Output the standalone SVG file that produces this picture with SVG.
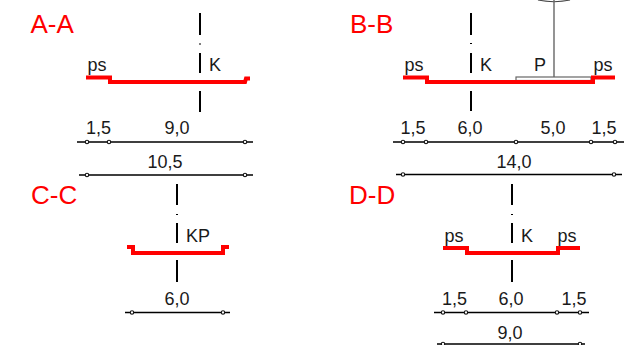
<svg xmlns="http://www.w3.org/2000/svg" width="631" height="345" viewBox="0 0 631 345">
<style>
text{font-family:"Liberation Sans",Arial,sans-serif;fill:#1a1a1a;font-size:18px}
.m{text-anchor:middle}
.t{fill:#f00;font-size:26px}
.r{fill:none;stroke:#f00;stroke-width:4}
.c{stroke:#000;stroke-width:2;fill:none}
.d{stroke:#000;stroke-width:1.3;fill:none}
.o{fill:#fff;stroke:#111;stroke-width:1.100}
.g{fill:#fff;stroke:#666;stroke-width:1.2}
</style>
<rect width="631" height="345" fill="#fff"/>
<g id="connectors">
<path class="c" d="M200 13V35M200 43.500V44.500M200 53V73M200 91V112M471 13V35M471 43V44M471 53V73M471 91V111M177 184V205M177 214V215M177 223V243M177 260V282M512 184V205M512 214V215M512 223V243M512 260V282"/>
<path class="d" d="M77 142H253M79 175H253M393 142H624M396 174.500H622M125 312.500H230M434 312.500H589M437 344H585"/>
</g>
<g id="A-A">
<text class="t" x="30.500" y="33">A-A</text>
<path class="r" d="M86 77.500H110V82H245L246 78.500H250"/>
<text x="87.500" y="70.500">ps</text><text x="209" y="70.500">K</text>
<text class="m" x="98.500" y="134">1,5</text><text class="m" x="177" y="134">9,0</text><text class="m" x="165" y="168">10,5</text>
<circle class="o" cx="87" cy="142" r="1.700"/><circle class="o" cx="109" cy="142" r="1.700"/><circle class="o" cx="245" cy="142" r="1.700"/><circle class="o" cx="87" cy="175" r="1.700"/><circle class="o" cx="245" cy="175" r="1.700"/>
</g>
<g id="B-B">
<text class="t" x="350" y="33">B-B</text>
<path fill="none" stroke="#444" stroke-width="1.200" d="M538 0Q554 3.500 570 0"/>
<path stroke="#666" stroke-width="1.400" d="M554 0V77"/>
<rect class="g" x="516" y="77" width="75" height="3.500"/>
<path class="r" d="M403 77.500H427V82H593V77.500H615"/>
<text x="404.500" y="70.500">ps</text><text x="480" y="70.500">K</text><text x="534" y="70.500">P</text><text x="593.500" y="70.500">ps</text>
<text class="m" x="413" y="134">1,5</text><text class="m" x="470" y="134">6,0</text><text class="m" x="553" y="134">5,0</text><text class="m" x="604" y="134">1,5</text><text class="m" x="514" y="168">14,0</text>
<circle class="o" cx="403" cy="142" r="1.700"/><circle class="o" cx="426" cy="142" r="1.700"/><circle class="o" cx="516" cy="142" r="1.700"/><circle class="o" cx="591" cy="142" r="1.700"/><circle class="o" cx="615" cy="142" r="1.700"/><circle class="o" cx="403" cy="174.500" r="1.700"/><circle class="o" cx="614" cy="174.500" r="1.700"/>
</g>
<g id="C-C">
<text class="t" x="31" y="204">C-C</text>
<path class="r" d="M127 247H133V253H223V247H229"/>
<text x="186" y="241.500">KP</text>
<text class="m" x="177" y="305">6,0</text>
<circle class="o" cx="132" cy="312.500" r="1.700"/><circle class="o" cx="223" cy="312.500" r="1.700"/>
</g>
<g id="D-D">
<text class="t" x="349" y="204">D-D</text>
<path class="r" d="M443 248H467V253H558V248H580"/>
<text x="444.500" y="241.500">ps</text><text x="521" y="241.500">K</text><text x="557.500" y="241.500">ps</text>
<text class="m" x="454.500" y="305">1,5</text><text class="m" x="511" y="305">6,0</text><text class="m" x="574" y="305">1,5</text><text class="m" x="510" y="339">9,0</text>
<circle class="o" cx="443" cy="312.500" r="1.700"/><circle class="o" cx="466" cy="312.500" r="1.700"/><circle class="o" cx="557" cy="312.500" r="1.700"/><circle class="o" cx="580" cy="312.500" r="1.700"/><circle class="o" cx="443" cy="344" r="1.700"/><circle class="o" cx="580" cy="344" r="1.700"/>
</g>
</svg>
